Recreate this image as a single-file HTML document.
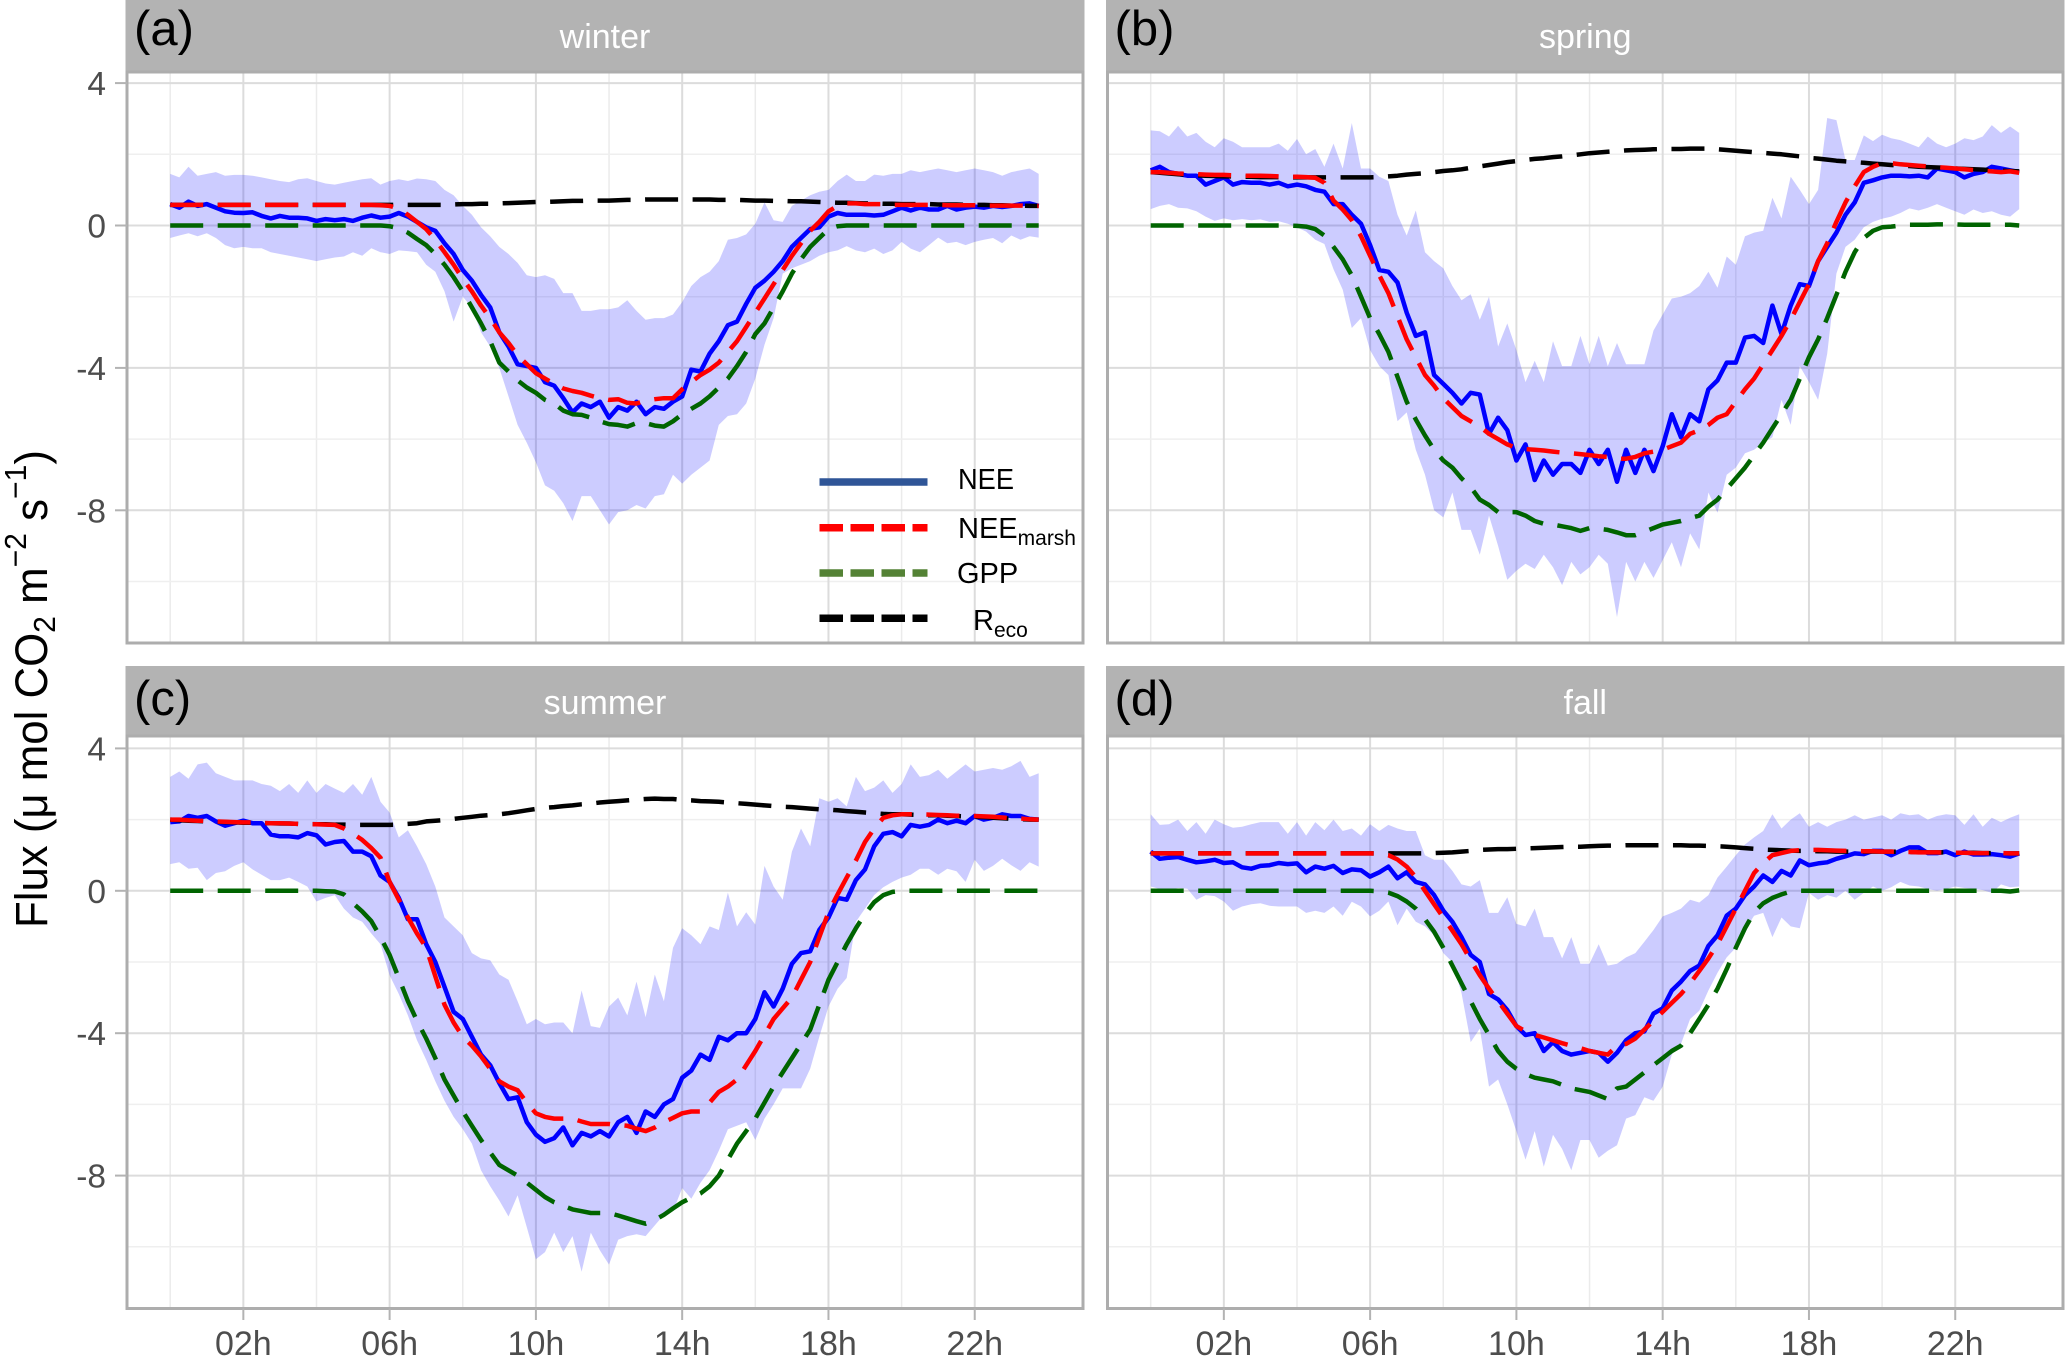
<!DOCTYPE html>
<html lang="en">
<head>
<meta charset="utf-8">
<title>Seasonal diurnal CO2 flux</title>
<style>
html,body{margin:0;padding:0;background:#fff;width:2066px;height:1356px;overflow:hidden}
svg{display:block;font-family:"Liberation Sans",sans-serif}
</style>
</head>
<body>
<svg id="chart" xmlns="http://www.w3.org/2000/svg" width="2066" height="1356" viewBox="0 0 2066 1356">
  <rect x="0" y="0" width="2066" height="1356" fill="#ffffff"/>
  <g id="panels"></g>
  <text transform="translate(47,928) rotate(-90)" font-size="45" fill="#000" textLength="478" lengthAdjust="spacingAndGlyphs">Flux (μ mol CO<tspan font-size="31" dy="8">2</tspan><tspan dy="-8"> m</tspan><tspan font-size="31" dy="-21">−2</tspan><tspan dy="21"> s</tspan><tspan font-size="31" dy="-21">−1</tspan><tspan dy="21">)</tspan></text>
  <g>
    <g>
      <line x1="819.5" x2="927.5" y1="482" y2="482" stroke="#2f5597" stroke-width="7.5"/>
      <text x="958" y="489" font-size="29" fill="#000" textLength="56" lengthAdjust="spacingAndGlyphs">NEE</text>
    </g>
    <g>
      <line x1="819.5" x2="927.5" y1="527.7" y2="527.7" stroke="#ff0000" stroke-width="7.5" stroke-dasharray="23.5 7.5"/>
      <text x="958" y="538" font-size="29" fill="#000">NEE<tspan font-size="21" dy="7">marsh</tspan></text>
    </g>
    <g>
      <line x1="819.5" x2="927.5" y1="573" y2="573" stroke="#548235" stroke-width="7.5" stroke-dasharray="23.5 7.5"/>
      <text x="957" y="583" font-size="29" fill="#000">GPP</text>
    </g>
    <g>
      <line x1="819.5" x2="927.5" y1="618.3" y2="618.3" stroke="#000000" stroke-width="7.5" stroke-dasharray="23.5 7.5"/>
      <text x="973" y="630" font-size="29" fill="#000">R<tspan font-size="21" dy="7">eco</tspan></text>
    </g>
  </g>
</svg>
<script>
const xTickLabels = ['02h','06h','10h','14h','18h','22h'];
const xTickHours = [2,6,10,14,18,22];
const xMinorHours = [0,4,8,12,16,20];
const yTickValues = [4,0,-4,-8];
const yTickLabels = ['4','0','-4','-8'];
const yMinorValues = [2,-2,-6,-10];
const seasons = ['winter','spring','summer','fall'];
const panelTags = ['(a)','(b)','(c)','(d)'];

/* 15-minute values starting at 00:00, in umol CO2 m-2 s-1 */
const winterNEE = [.60,.50,.67,.55,.60,.50,.40,.36,.35,.37,.27,.20,.27,.22,.22,.20,.13,.18,.15,.18,.13,.22,.28,.22,.25,.35,.25,.10,-.05,-.15,-.50,-.80,-1.25,-1.55,-1.95,-2.30,-3.00,-3.40,-3.90,-3.95,-4.00,-4.40,-4.50,-4.85,-5.25,-5.00,-5.10,-4.95,-5.40,-5.10,-5.20,-4.95,-5.30,-5.10,-5.15,-4.95,-4.80,-4.05,-4.10,-3.60,-3.25,-2.80,-2.70,-2.20,-1.75,-1.55,-1.30,-1.00,-.60,-.35,-.10,-.05,.25,.35,.30,.30,.30,.28,.30,.40,.50,.42,.50,.45,.45,.55,.45,.50,.53,.50,.55,.52,.55,.60,.62,.55];
const winterMarsh = [.58,.58,.58,.58,.58,.58,.58,.58,.58,.58,.58,.58,.58,.58,.58,.58,.58,.58,.58,.58,.58,.58,.58,.57,.55,.48,.30,.10,-.10,-.40,-.75,-1.10,-1.50,-1.85,-2.25,-2.60,-3.00,-3.30,-3.65,-3.90,-4.15,-4.30,-4.45,-4.58,-4.65,-4.70,-4.78,-4.85,-4.90,-4.88,-4.98,-5.00,-4.92,-4.88,-4.85,-4.85,-4.60,-4.40,-4.20,-4.05,-3.85,-3.55,-3.25,-2.85,-2.45,-2.05,-1.65,-1.25,-.85,-.50,-.15,.10,.40,.55,.62,.62,.60,.60,.60,.58,.58,.58,.58,.58,.58,.57,.57,.57,.57,.56,.56,.56,.56,.56,.55,.55];
const winterGPP = [0,0,0,0,0,0,0,0,0,0,0,0,0,0,0,0,0,0,0,0,0,0,0,0,-.02,-.08,-.20,-.38,-.55,-.80,-1.10,-1.45,-1.85,-2.30,-2.75,-3.25,-3.85,-4.10,-4.35,-4.55,-4.70,-4.90,-5.00,-5.20,-5.30,-5.32,-5.40,-5.50,-5.58,-5.60,-5.65,-5.55,-5.55,-5.62,-5.65,-5.50,-5.30,-5.15,-5.00,-4.80,-4.55,-4.30,-3.95,-3.55,-3.05,-2.75,-2.30,-1.85,-1.35,-.95,-.60,-.35,-.10,-.02,0,0,0,0,0,0,0,0,0,0,0,0,0,0,0,0,0,0,0,0,0,0];
const winterReco = [.58,.58,.58,.58,.58,.58,.58,.58,.58,.58,.58,.58,.58,.58,.58,.58,.58,.58,.58,.58,.58,.58,.58,.58,.58,.58,.58,.58,.58,.58,.58,.59,.60,.60,.61,.61,.62,.63,.64,.65,.66,.66,.67,.68,.69,.69,.70,.70,.70,.71,.72,.72,.73,.73,.73,.73,.73,.73,.73,.73,.72,.72,.72,.71,.70,.70,.69,.69,.68,.68,.67,.66,.65,.64,.64,.63,.62,.62,.61,.61,.60,.60,.60,.60,.59,.59,.59,.58,.58,.58,.57,.57,.56,.56,.55,.55];
const winterUpper = [1.45,1.35,1.65,1.40,1.45,1.50,1.40,1.42,1.42,1.40,1.35,1.30,1.25,1.22,1.30,1.33,1.25,1.18,1.15,1.20,1.25,1.30,1.33,1.15,1.25,1.30,1.25,1.32,1.30,1.25,1.00,.85,.55,.30,-.05,-.30,-.60,-.80,-1.05,-1.40,-1.45,-1.40,-1.50,-1.90,-1.90,-2.40,-2.40,-2.35,-2.35,-2.30,-2.10,-2.40,-2.65,-2.60,-2.60,-2.50,-2.15,-1.70,-1.45,-1.30,-1.00,-.40,-.35,-.25,.05,.65,.15,.10,.55,.70,.85,.95,1.00,1.25,1.43,1.25,1.25,1.43,1.40,1.45,1.45,1.55,1.50,1.55,1.60,1.55,1.50,1.55,1.60,1.55,1.50,1.40,1.50,1.55,1.60,1.45];
const winterLower = [-.35,-.28,-.22,-.30,-.22,-.35,-.55,-.64,-.60,-.64,-.64,-.75,-.80,-.85,-.90,-.95,-1.00,-.95,-.90,-.87,-.75,-.85,-.64,-.75,-.80,-.70,-.72,-.75,-1.10,-1.30,-1.85,-2.70,-2.00,-2.30,-3.00,-3.40,-4.00,-4.80,-5.60,-6.10,-6.65,-7.30,-7.45,-7.80,-8.30,-7.60,-7.60,-8.00,-8.40,-8.05,-8.00,-7.85,-7.95,-7.60,-7.55,-7.00,-7.25,-7.00,-6.80,-6.60,-5.60,-5.35,-5.30,-5.00,-4.30,-3.35,-2.60,-1.35,-1.20,-1.10,-1.00,-.85,-.75,-.70,-.58,-.70,-.75,-.65,-.80,-.70,-.46,-.65,-.75,-.55,-.34,-.50,-.46,-.55,-.46,-.40,-.35,-.50,-.28,-.40,-.30,-.34];

const springNEE = [1.55,1.65,1.50,1.45,1.40,1.40,1.15,1.25,1.35,1.15,1.22,1.20,1.20,1.15,1.20,1.10,1.15,1.10,1.00,.95,.60,.60,.30,.05,-.55,-1.25,-1.30,-1.60,-2.45,-3.10,-3.00,-4.20,-4.45,-4.70,-5.00,-4.70,-4.75,-5.85,-5.40,-5.75,-6.60,-6.15,-7.15,-6.60,-7.00,-6.70,-6.70,-6.95,-6.30,-6.70,-6.30,-7.20,-6.30,-6.95,-6.30,-6.90,-6.20,-5.30,-5.95,-5.30,-5.50,-4.60,-4.35,-3.85,-3.85,-3.15,-3.10,-3.30,-2.25,-3.05,-2.25,-1.65,-1.70,-1.00,-.60,-.20,.30,.65,1.20,1.27,1.35,1.40,1.40,1.38,1.40,1.35,1.60,1.55,1.50,1.35,1.45,1.50,1.65,1.60,1.55,1.50];
const springMarsh = [1.50,1.50,1.48,1.46,1.45,1.44,1.43,1.42,1.42,1.41,1.40,1.40,1.40,1.39,1.38,1.37,1.37,1.36,1.34,1.20,.70,.45,.15,-.30,-.85,-1.40,-1.90,-2.55,-3.20,-3.70,-4.20,-4.50,-4.85,-5.10,-5.35,-5.50,-5.65,-5.85,-6.00,-6.15,-6.25,-6.28,-6.30,-6.32,-6.35,-6.38,-6.40,-6.42,-6.45,-6.48,-6.50,-6.55,-6.55,-6.50,-6.40,-6.35,-6.30,-6.20,-6.10,-5.85,-5.75,-5.60,-5.40,-5.30,-4.95,-4.60,-4.30,-3.90,-3.50,-3.10,-2.65,-2.15,-1.65,-1.00,-.50,.10,.65,1.10,1.50,1.65,1.75,1.75,1.72,1.70,1.68,1.66,1.64,1.62,1.60,1.58,1.56,1.54,1.52,1.50,1.52,1.48];
const springGPP = [0,0,0,0,0,0,0,0,0,0,0,0,0,0,0,0,-.01,-.03,-.10,-.28,-.60,-.95,-1.40,-2.00,-2.60,-3.05,-3.55,-4.25,-4.95,-5.45,-5.90,-6.30,-6.60,-6.80,-7.10,-7.35,-7.70,-7.85,-8.05,-8.05,-8.05,-8.15,-8.30,-8.38,-8.40,-8.45,-8.50,-8.58,-8.50,-8.52,-8.55,-8.62,-8.70,-8.70,-8.60,-8.50,-8.40,-8.35,-8.30,-8.22,-8.15,-7.90,-7.70,-7.40,-7.10,-6.80,-6.45,-6.10,-5.70,-5.30,-4.90,-4.30,-3.70,-3.20,-2.60,-1.95,-1.30,-.75,-.35,-.15,-.05,-.03,0,.02,.02,.02,.03,.03,.03,.02,.02,.02,.02,.02,.02,0];
const springReco = [1.50,1.48,1.46,1.44,1.42,1.41,1.40,1.39,1.38,1.38,1.37,1.37,1.36,1.36,1.36,1.35,1.35,1.35,1.35,1.35,1.35,1.35,1.35,1.35,1.35,1.36,1.38,1.40,1.43,1.45,1.47,1.50,1.53,1.55,1.58,1.62,1.66,1.70,1.74,1.78,1.81,1.84,1.87,1.89,1.92,1.94,1.97,2.00,2.03,2.05,2.07,2.09,2.11,2.12,2.13,2.14,2.15,2.15,2.15,2.16,2.16,2.16,2.14,2.12,2.10,2.08,2.06,2.04,2.02,2.00,1.97,1.94,1.90,1.88,1.85,1.82,1.80,1.78,1.76,1.74,1.72,1.70,1.68,1.67,1.65,1.64,1.63,1.62,1.60,1.59,1.58,1.57,1.55,1.54,1.53,1.52];
const springUpper = [2.67,2.65,2.50,2.80,2.50,2.60,2.35,2.20,2.45,2.35,2.20,2.20,2.20,2.20,2.30,2.10,2.43,2.00,2.15,1.65,2.30,1.60,2.88,1.60,1.60,1.37,1.25,.30,-.28,.42,-.75,-1.00,-1.20,-1.70,-2.10,-1.93,-2.65,-2.00,-3.40,-2.75,-3.50,-4.40,-3.80,-4.40,-3.25,-3.95,-3.95,-3.10,-3.90,-3.10,-3.95,-3.30,-3.90,-3.90,-3.90,-2.95,-2.50,-2.05,-2.00,-1.90,-1.70,-1.30,-1.75,-.87,-1.10,-.30,-.20,-.15,.78,.20,1.37,1.00,.60,1.00,3.02,2.96,1.84,1.84,2.53,2.37,2.55,2.45,2.40,2.30,2.20,2.50,2.30,2.20,2.30,2.45,2.40,2.50,2.82,2.60,2.78,2.60];
const springLower = [.46,.55,.60,.50,.48,.40,.25,.13,.20,.15,.18,.15,.17,.10,.12,.05,-.05,-.17,-.40,-.52,-1.23,-1.80,-2.88,-2.60,-3.50,-3.95,-4.20,-5.50,-5.25,-6.30,-7.00,-8.00,-8.20,-7.50,-8.55,-8.55,-9.25,-8.15,-9.00,-9.95,-9.70,-9.50,-9.65,-9.25,-9.60,-10.10,-9.45,-9.80,-9.60,-9.25,-9.50,-11.00,-9.45,-10.00,-9.45,-9.90,-9.40,-8.90,-9.60,-8.65,-9.10,-7.50,-8.07,-7.00,-6.80,-6.40,-6.30,-6.10,-5.95,-4.90,-5.60,-3.95,-4.40,-4.90,-3.60,-1.35,-.60,-.40,-.05,.10,.19,.25,.35,.48,.42,.50,.60,.50,.40,.30,.45,.35,.40,.30,.25,.46];

const summerNEE = [1.93,1.95,2.10,2.05,2.10,1.95,1.83,1.90,1.97,1.90,1.90,1.58,1.53,1.53,1.50,1.62,1.56,1.30,1.37,1.40,1.10,1.10,.97,.43,.25,-.20,-.80,-.80,-1.50,-2.00,-2.70,-3.40,-3.60,-4.10,-4.60,-4.90,-5.40,-5.85,-5.80,-6.50,-6.85,-7.05,-6.95,-6.65,-7.15,-6.80,-6.90,-6.75,-6.90,-6.50,-6.35,-6.80,-6.20,-6.35,-6.00,-5.85,-5.25,-5.05,-4.60,-4.75,-4.10,-4.20,-4.00,-4.00,-3.60,-2.85,-3.25,-2.75,-2.05,-1.75,-1.70,-1.10,-.75,-.20,-.25,.30,.60,1.25,1.60,1.65,1.53,1.85,1.80,1.85,2.00,1.90,1.97,1.90,2.10,2.00,2.05,2.15,2.10,2.10,2.02,2.00];
const summerMarsh = [2.00,2.00,1.98,1.97,1.96,1.95,1.94,1.93,1.92,1.92,1.91,1.90,1.90,1.89,1.88,1.87,1.87,1.86,1.85,1.75,1.60,1.43,1.20,.93,.25,-.25,-.75,-1.20,-1.60,-2.40,-3.20,-3.70,-4.10,-4.35,-4.65,-5.00,-5.35,-5.50,-5.60,-5.95,-6.25,-6.35,-6.40,-6.40,-6.40,-6.48,-6.55,-6.55,-6.55,-6.58,-6.60,-6.68,-6.75,-6.65,-6.50,-6.38,-6.25,-6.20,-6.20,-5.95,-5.65,-5.50,-5.30,-4.90,-4.50,-4.05,-3.60,-3.30,-3.00,-2.50,-2.00,-1.30,-.60,-.10,.37,.85,1.37,1.75,2.05,2.12,2.15,2.15,2.15,2.14,2.13,2.12,2.11,2.10,2.10,2.09,2.08,2.06,2.04,2.03,2.01,2.00];
const summerGPP = [0,0,0,0,0,0,0,0,0,0,0,0,0,0,0,0,0,-.01,-.02,-.10,-.35,-.58,-.85,-1.30,-1.80,-2.45,-3.10,-3.65,-4.15,-4.70,-5.30,-5.75,-6.20,-6.60,-7.00,-7.35,-7.70,-7.85,-8.00,-8.20,-8.40,-8.60,-8.75,-8.85,-8.95,-9.00,-9.05,-9.05,-9.05,-9.12,-9.20,-9.28,-9.35,-9.25,-9.10,-8.92,-8.75,-8.62,-8.50,-8.30,-8.00,-7.55,-7.10,-6.75,-6.40,-5.95,-5.50,-5.10,-4.70,-4.30,-3.90,-3.20,-2.50,-2.00,-1.50,-1.05,-.65,-.32,-.12,-.03,0,0,0,0,0,0,0,0,0,0,0,0,0,0,0,0];
const summerReco = [2.00,1.98,1.97,1.96,1.95,1.94,1.93,1.92,1.91,1.91,1.90,1.90,1.89,1.89,1.88,1.88,1.87,1.87,1.86,1.86,1.85,1.85,1.85,1.85,1.85,1.86,1.88,1.90,1.95,1.97,1.99,2.02,2.05,2.08,2.11,2.13,2.15,2.18,2.22,2.26,2.30,2.33,2.35,2.38,2.40,2.43,2.45,2.48,2.50,2.52,2.54,2.56,2.58,2.59,2.58,2.58,2.55,2.54,2.52,2.51,2.50,2.48,2.46,2.44,2.42,2.40,2.38,2.36,2.35,2.33,2.31,2.29,2.28,2.26,2.24,2.22,2.20,2.18,2.16,2.15,2.15,2.14,2.13,2.12,2.12,2.11,2.10,2.09,2.08,2.07,2.05,2.04,2.02,2.01,2.00,2.00];
const summerUpper = [3.20,3.35,3.15,3.55,3.60,3.30,3.20,3.10,3.10,3.10,3.00,2.95,2.80,3.00,2.75,3.10,2.75,3.00,2.87,2.75,3.00,2.70,3.20,2.50,2.20,1.50,1.70,1.25,.75,.12,-.75,-1.00,-1.25,-1.75,-1.90,-1.95,-2.35,-2.50,-3.10,-3.75,-3.60,-3.75,-3.70,-3.70,-4.00,-2.80,-3.80,-3.85,-3.25,-3.00,-3.50,-2.55,-3.55,-2.35,-3.10,-1.60,-1.05,-1.25,-1.50,-1.00,-1.10,-.05,-1.00,-.60,-.95,.70,.12,-.25,1.10,1.75,1.25,2.60,2.50,2.60,2.37,3.20,2.80,2.90,3.10,2.75,3.00,3.55,3.20,3.25,3.40,3.15,3.35,3.55,3.35,3.40,3.45,3.40,3.50,3.65,3.20,3.30];
const summerLower = [.75,.80,.62,.65,.30,.50,.55,.70,.80,.60,.45,.30,.30,.37,.25,.12,-.30,-.20,-.12,-.50,-.75,-.87,-1.20,-1.50,-2.37,-2.90,-3.50,-4.20,-4.75,-5.35,-5.90,-6.35,-6.70,-7.10,-7.85,-8.30,-8.70,-9.15,-8.55,-9.45,-10.35,-10.15,-9.60,-10.15,-9.70,-10.70,-9.60,-10.10,-10.50,-9.80,-9.70,-9.65,-9.70,-9.40,-9.10,-9.00,-8.35,-8.65,-8.20,-7.85,-7.30,-6.70,-6.60,-6.50,-7.00,-6.40,-6.00,-5.55,-5.55,-5.55,-5.00,-4.10,-3.25,-2.75,-2.45,-.87,-.50,-.12,.10,.25,.37,.45,.62,.62,.45,.62,.55,.25,.87,.56,.70,.90,.72,.56,.80,.68];

const fallNEE = [1.10,.90,.93,.95,.87,.80,.83,.87,.78,.80,.66,.62,.70,.72,.78,.75,.77,.52,.68,.62,.70,.50,.60,.58,.40,.52,.68,.35,.52,.25,.18,-.12,-.56,-.87,-1.30,-1.80,-2.00,-2.90,-3.05,-3.35,-3.80,-4.05,-4.00,-4.50,-4.25,-4.50,-4.60,-4.55,-4.50,-4.55,-4.80,-4.55,-4.20,-4.00,-3.95,-3.45,-3.30,-2.80,-2.55,-2.25,-2.10,-1.55,-1.25,-.70,-.50,-.12,.12,.43,.25,.56,.43,.85,.72,.77,.80,.90,.97,1.05,1.03,1.12,1.12,1.00,1.12,1.22,1.22,1.06,1.06,1.10,1.00,1.10,1.02,1.02,1.03,1.00,.96,1.05];
const fallMarsh = [1.05,1.05,1.05,1.05,1.05,1.05,1.05,1.05,1.05,1.05,1.05,1.05,1.05,1.05,1.05,1.05,1.05,1.05,1.05,1.05,1.05,1.05,1.05,1.05,1.05,1.04,1.00,.88,.68,.38,0,-.38,-.75,-1.12,-1.50,-1.95,-2.37,-2.75,-3.10,-3.45,-3.80,-3.95,-4.05,-4.12,-4.20,-4.28,-4.35,-4.42,-4.50,-4.55,-4.60,-4.35,-4.30,-4.15,-3.90,-3.65,-3.40,-3.15,-2.90,-2.60,-2.25,-1.90,-1.50,-1.00,-.50,0,.50,.78,1.00,1.06,1.12,1.14,1.15,1.15,1.14,1.13,1.12,1.12,1.11,1.11,1.10,1.10,1.09,1.09,1.08,1.08,1.08,1.07,1.07,1.07,1.06,1.06,1.06,1.06,1.05,1.05];
const fallGPP = [0,0,0,0,0,0,0,0,0,0,0,0,0,0,0,0,0,0,0,0,0,0,0,0,0,-.01,-.05,-.15,-.30,-.50,-.80,-1.15,-1.60,-2.10,-2.60,-3.10,-3.60,-4.05,-4.50,-4.80,-5.00,-5.15,-5.25,-5.30,-5.35,-5.45,-5.55,-5.60,-5.65,-5.75,-5.85,-5.55,-5.50,-5.30,-5.10,-4.90,-4.70,-4.50,-4.35,-4.00,-3.60,-3.20,-2.75,-2.20,-1.60,-1.05,-.60,-.35,-.20,-.10,-.02,0,0,0,0,0,0,0,0,0,0,0,0,0,0,0,0,0,0,0,0,0,0,0,-.02,.01];
const fallReco = [1.05,1.05,1.05,1.05,1.05,1.05,1.05,1.05,1.05,1.05,1.05,1.05,1.05,1.05,1.05,1.05,1.05,1.05,1.05,1.05,1.05,1.05,1.05,1.05,1.05,1.05,1.05,1.05,1.05,1.05,1.05,1.06,1.07,1.08,1.10,1.12,1.15,1.16,1.17,1.17,1.18,1.19,1.20,1.21,1.22,1.23,1.24,1.24,1.25,1.26,1.27,1.27,1.28,1.28,1.28,1.28,1.28,1.28,1.28,1.27,1.27,1.26,1.25,1.24,1.22,1.20,1.18,1.16,1.15,1.14,1.13,1.12,1.12,1.11,1.11,1.10,1.10,1.10,1.10,1.10,1.10,1.10,1.09,1.09,1.09,1.08,1.08,1.08,1.07,1.07,1.07,1.06,1.06,1.06,1.05,1.05];
const fallUpper = [2.15,1.85,1.87,2.00,1.68,1.93,1.60,2.00,1.87,1.77,1.80,1.87,1.93,1.93,1.93,1.60,1.93,1.55,1.93,1.70,2.00,1.68,1.75,1.55,1.87,1.68,1.85,1.75,1.68,1.68,1.00,.87,.87,.56,.18,.12,.30,-.62,-.62,-.18,-.93,-1.00,-.50,-1.30,-1.30,-1.90,-1.30,-2.05,-2.05,-1.50,-2.10,-2.05,-1.87,-1.75,-1.43,-1.10,-.72,-.62,-.50,-.25,-.33,-.12,.37,.68,1.00,1.30,1.50,1.68,2.15,1.75,2.00,2.18,1.80,1.93,1.80,1.93,2.00,2.12,2.00,2.06,2.12,2.00,2.18,2.12,2.15,2.00,2.10,2.15,2.12,1.85,2.15,1.80,2.05,1.93,2.05,2.15];
const fallLower = [.12,.05,.02,.08,.06,-.25,-.12,-.15,-.30,-.56,-.44,-.38,-.35,-.42,-.44,-.44,-.44,-.62,-.56,-.62,-.44,-.70,-.31,-.44,-.72,-.56,-.30,-.97,-.50,-.87,-1.00,-1.25,-1.75,-2.00,-2.87,-4.25,-3.87,-5.50,-5.30,-6.00,-6.75,-7.55,-6.75,-7.75,-6.85,-7.25,-7.85,-7.00,-7.00,-7.50,-7.30,-7.15,-6.40,-6.30,-5.80,-5.90,-5.50,-4.60,-4.30,-3.60,-3.37,-2.80,-2.30,-1.87,-1.60,-1.10,-.70,-.62,-1.30,-.75,-1.00,-1.05,-.06,-.25,-.12,-.19,0,-.25,-.06,.12,0,.10,.25,.15,.12,.05,0,.05,.12,.08,.06,.02,-.06,.18,.10,.12];

const panelSeries = [
  {nee:winterNEE, marsh:winterMarsh, gpp:winterGPP, reco:winterReco, upper:winterUpper, lower:winterLower},
  {nee:springNEE, marsh:springMarsh, gpp:springGPP, reco:springReco, upper:springUpper, lower:springLower},
  {nee:summerNEE, marsh:summerMarsh, gpp:summerGPP, reco:summerReco, upper:summerUpper, lower:summerLower},
  {nee:fallNEE, marsh:fallMarsh, gpp:fallGPP, reco:fallReco, upper:fallUpper, lower:fallLower}
];

const NS = 'http://www.w3.org/2000/svg';
const root = document.getElementById('panels');
const HOUR_PX = 36.57;
const UNIT_PX = 35.6;
const STRIP_COLOR = '#b3b3b3';
const LINE_WIDTH = 4.5;

function make(tag, attrs, parent) {
  const node = document.createElementNS(NS, tag);
  for (const key in attrs) node.setAttribute(key, attrs[key]);
  parent.appendChild(node);
  return node;
}

function drawPanel(index) {
  const season = seasons[index];
  const series = panelSeries[index];
  const col = index % 2;
  const row = index < 2 ? 0 : 1;
  const left = col === 0 ? 127 : 1107.5;
  const right = col === 0 ? 1083 : 2063;
  const stripTop = row === 0 ? 0 : 666;
  const stripBottom = row === 0 ? 72 : 736;
  const bottom = row === 0 ? 643 : 1308.5;
  const zeroY = row === 0 ? 225.5 : 890.8;
  const sx = function (hour) { return left + 43.2 + HOUR_PX * hour; };
  const sy = function (value) { return zeroY - UNIT_PX * value; };

  const g = make('g', {}, root);
  
  

  xMinorHours.forEach(function (hour) {
    const grid = make('line', {x1:sx(hour), x2:sx(hour), y1:stripBottom, y2:bottom, stroke:'#ebebeb', 'stroke-width':1.5}, g);
    
    
  });
  yMinorValues.forEach(function (value) {
    const grid = make('line', {x1:left, x2:right, y1:sy(value), y2:sy(value), stroke:'#efefef', 'stroke-width':1.5}, g);
    
    
  });
  xTickHours.forEach(function (hour) {
    const grid = make('line', {x1:sx(hour), x2:sx(hour), y1:stripBottom, y2:bottom, stroke:'#dcdcdc', 'stroke-width':2}, g);
    
    
  });
  yTickValues.forEach(function (value) {
    const grid = make('line', {x1:left, x2:right, y1:sy(value), y2:sy(value), stroke:'#dcdcdc', 'stroke-width':2}, g);
    
    
  });

  let bandPath = '';
  series.upper.forEach(function (value, i) {
    bandPath += (i ? 'L' : 'M') + sx(i / 4).toFixed(1) + ' ' + sy(value).toFixed(1);
  });
  for (let i = series.lower.length - 1; i >= 0; i--) {
    bandPath += 'L' + sx(i / 4).toFixed(1) + ' ' + sy(series.lower[i]).toFixed(1);
  }
  const band = make('path', {d:bandPath + 'Z', fill:'#0000ff', 'fill-opacity':0.2}, g);
  
  

  const linePath = function (values) {
    return values.map(function (value, i) {
      return (i ? 'L' : 'M') + sx(i / 4).toFixed(1) + ' ' + sy(value).toFixed(1);
    }).join('');
  };
  const common = {fill:'none', 'stroke-linejoin':'round'};

  const neeLine = make('path', Object.assign({d:linePath(series.nee), stroke:'#0000ff', 'stroke-width':LINE_WIDTH}, common), g);
  
  

  const recoLine = make('path', Object.assign({d:linePath(series.reco), stroke:'#000000', 'stroke-width':LINE_WIDTH, 'stroke-dasharray':'33 14.5'}, common), g);
  
  

  const gppLine = make('path', Object.assign({d:linePath(series.gpp), stroke:'#006400', 'stroke-width':LINE_WIDTH, 'stroke-dasharray':'33 14.5'}, common), g);
  
  

  const marshLine = make('path', Object.assign({d:linePath(series.marsh), stroke:'#ff0000', 'stroke-width':LINE_WIDTH, 'stroke-dasharray':'33 14.5'}, common), g);
  
  

  const strip = make('rect', {x:left - 1.5, y:stripTop, width:right - left + 3, height:stripBottom - stripTop, fill:STRIP_COLOR}, g);
  
  

  const border = make('rect', {x:left, y:stripBottom, width:right - left, height:bottom - stripBottom, fill:'none', stroke:'#adadad', 'stroke-width':3}, g);
  
  

  const stripLabel = make('text', {x:(left + right) / 2, y:stripTop + 48, 'font-size':34, fill:'#ffffff', 'text-anchor':'middle'}, g);
  stripLabel.textContent = season;
  
  

  const tag = make('text', {x:left + 7, y:stripTop + (row === 0 ? 45 : 49), 'font-size':49, fill:'#000000'}, g);
  tag.textContent = panelTags[index];
  
  

  if (col === 0) {
    yTickValues.forEach(function (value, i) {
      const tick = make('line', {x1:115, x2:left, y1:sy(value), y2:sy(value), stroke:STRIP_COLOR, 'stroke-width':2}, g);
      
      
      const label = make('text', {x:106, y:sy(value) + 12, 'font-size':33.5, fill:'#4d4d4d', 'text-anchor':'end'}, g);
      label.textContent = yTickLabels[i];
      
      
    });
  }
  if (row === 1) {
    xTickHours.forEach(function (hour, i) {
      const tick = make('line', {x1:sx(hour), x2:sx(hour), y1:bottom, y2:bottom + 11.5, stroke:STRIP_COLOR, 'stroke-width':2}, g);
      
      
      const label = make('text', {x:sx(hour), y:1355, 'font-size':34, fill:'#4d4d4d', 'text-anchor':'middle'}, g);
      label.textContent = xTickLabels[i];
      
      
    });
  }
}

seasons.forEach(function (season, index) { drawPanel(index); });
</script>
</body>
</html>
